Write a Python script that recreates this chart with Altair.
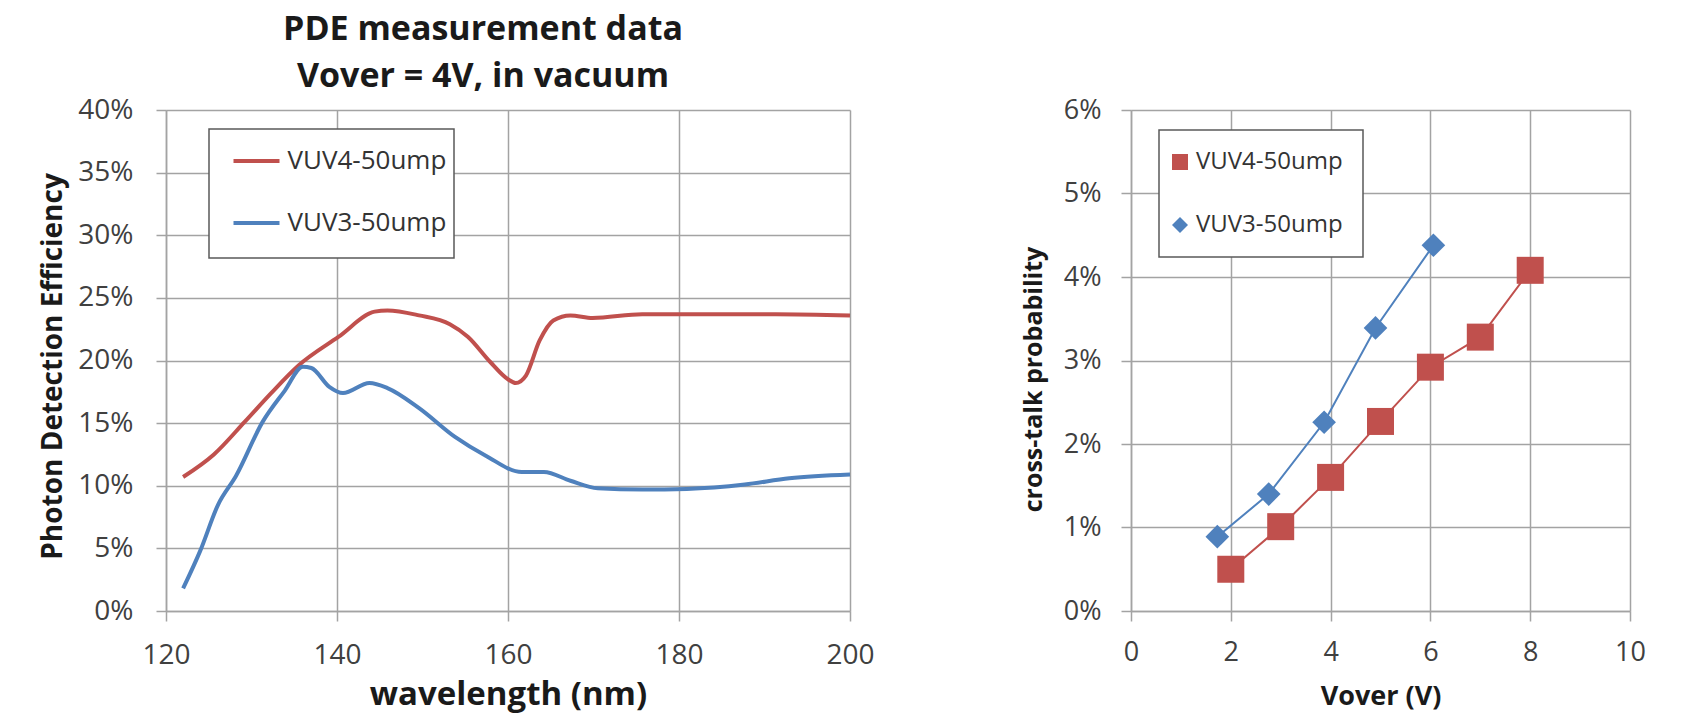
import altair as alt
import pandas as pd

# ---------------- data: PDE vs wavelength (Vover = 4V, in vacuum) ----------------
vuv4_wl = [122, 125.6, 129.2, 132.3, 135.5, 140.2, 144.4, 145.9, 149.6, 153.2, 155.3,
           157.9, 160.0, 160.9, 162.1, 163.7, 165.3, 167.3, 169.9, 175.7, 180.9, 191.3, 200]
vuv4_pde = [10.7, 12.5, 15.1, 17.4, 19.6, 21.9, 23.9, 24.0, 23.6, 22.9, 21.9,
            19.9, 18.5, 18.2, 18.8, 21.6, 23.2, 23.6, 23.4, 23.7, 23.7, 23.7, 23.6]
vuv3_wl = [122, 124.0, 126.1, 128.2, 131.3, 133.9, 136.0, 137.0, 139.1, 140.7, 143.8, 145.9,
           149.6, 153.8, 157.4, 161.6, 164.2, 167.3, 170.5, 175.7, 180.9, 187.7, 192.9, 200]
vuv3_pde = [1.8, 4.8, 8.5, 10.8, 15.1, 17.6, 19.5, 19.4, 17.9, 17.4, 18.2, 17.8,
            16.2, 13.9, 12.4, 11.1, 11.1, 10.4, 9.8, 9.7, 9.75, 10.1, 10.6, 10.9]

# ---------------- data: cross-talk probability vs Vover ----------------
vuv4_vover = [2, 3, 4, 5, 6, 7, 8]
vuv4_ct = [0.50, 1.01, 1.60, 2.27, 2.92, 3.28, 4.08]
vuv3_vover = [1.73, 2.76, 3.87, 4.90, 6.06]
vuv3_ct = [0.89, 1.40, 2.26, 3.39, 4.38]

series_names = ["VUV4-50ump", "VUV3-50ump"]
series_colors = ["#C0504D", "#4F81BD"]
series_shapes = ["square", "diamond"]
series_marker_sizes = [729, 560]

title_lines = ["PDE measurement data", "Vover = 4V, in vacuum"]
wl_ticks = [120, 140, 160, 180, 200]
pde_ticks = [0, 0.05, 0.10, 0.15, 0.20, 0.25, 0.30, 0.35, 0.40]
vover_ticks = [0, 2, 4, 6, 8, 10]
ct_ticks = [0, 0.01, 0.02, 0.03, 0.04, 0.05, 0.06]

pde_df = pd.DataFrame({
    "wavelength": vuv4_wl + vuv3_wl,
    "pde": [v / 100 for v in vuv4_pde + vuv3_pde],
    "series": [series_names[0]] * len(vuv4_wl) + [series_names[1]] * len(vuv3_wl),
})
ct_df = pd.DataFrame({
    "vover": vuv4_vover + vuv3_vover,
    "ct": [v / 100 for v in vuv4_ct + vuv3_ct],
    "device": [series_names[0]] * len(vuv4_vover) + [series_names[1]] * len(vuv3_vover),
})

FONT = "Open Sans"
GRID = "#a3a3a3"
LABEL = "#404040"
TITLE = "#1a1a1a"
NBSP = "\u00a0"

# ---------------- left: PDE ----------------
left = alt.Chart(pde_df).mark_line(strokeWidth=4, interpolate="monotone").encode(
    x=alt.X("wavelength:Q",
            scale=alt.Scale(domain=[120, 200], nice=False, zero=False),
            axis=alt.Axis(values=wl_ticks, title="wavelength (nm)", format="d",
                          labelFontSize=28, labelPadding=34, labelBaseline="middle",
                          labelFlush=False, titleFontSize=33, titleY=83,
                          titleBaseline="middle")),
    y=alt.Y("pde:Q",
            scale=alt.Scale(domain=[0, 0.4], nice=False),
            axis=alt.Axis(values=pde_ticks, format=".0%", title="Photon Detection Efficiency",
                          labelFontSize=28, labelPadding=23,
                          titleFontSize=28, titleX=-113, titleY=256,
                          titleBaseline="middle", titleAlign="center")),
    color=alt.Color("series:N",
                    scale=alt.Scale(domain=series_names, range=series_colors),
                    legend=alt.Legend(orient="none", legendX=43, legendY=19,
                                      title=NBSP, titleOrient="bottom", titleFontSize=10,
                                      titlePadding=5,
                                      symbolType="stroke", symbolSize=2116,
                                      symbolStrokeWidth=4, symbolOffset=15.5,
                                      labelOffset=6, rowPadding=24, padding=7,
                                      strokeColor="#595959", fillColor="white",
                                      labelFont=FONT, labelFontSize=26, labelColor="#333333",
                                      labelExpr="datum.label + '" + NBSP * 6 + "'")),
).properties(
    width=684, height=501,
    title=alt.Title(title_lines, font=FONT, fontSize=34, fontWeight="bold", color=TITLE,
                    lineHeight=47, anchor="middle", frame="group", dx=-25, offset=2),
)

# ---------------- right: cross-talk ----------------
ct_legend = alt.Legend(orient="none", legendX=28, legendY=20, title=None,
                       symbolSize=256, symbolOffset=-11, labelOffset=4,
                       rowPadding=39, padding=20,
                       strokeColor="#595959", fillColor="white",
                       labelFont=FONT, labelFontSize=24, labelColor="#333333")

base = alt.Chart(ct_df).encode(
    x=alt.X("vover:Q",
            scale=alt.Scale(domain=[0, 10], nice=False),
            axis=alt.Axis(values=vover_ticks, title="Vover (V)", format="d",
                          labelFontSize=27, labelPadding=31, labelBaseline="middle",
                          labelFlush=False, titleFontSize=27, titleY=85,
                          titleBaseline="middle")),
    y=alt.Y("ct:Q",
            scale=alt.Scale(domain=[0, 0.06], nice=False),
            axis=alt.Axis(values=ct_ticks, format=".0%", title="cross-talk probability",
                          labelFontSize=27, labelPadding=20,
                          titleFontSize=25, titleX=-98, titleY=269,
                          titleBaseline="middle", titleAlign="center")),
)
ct_lines = [
    base.transform_filter(alt.datum.device == name).mark_line(strokeWidth=2, color=col)
    for name, col in zip(series_names, series_colors)
]
ct_points = [
    base.transform_filter(alt.datum.device == name).mark_point(
        filled=True, opacity=1, size=msize
    ).encode(
        color=alt.Color("device:N", scale=alt.Scale(domain=series_names, range=series_colors),
                        legend=ct_legend),
        shape=alt.Shape("device:N", scale=alt.Scale(domain=series_names, range=series_shapes),
                        legend=ct_legend),
    )
    for name, msize in zip(series_names, series_marker_sizes)
]
right = alt.layer(*ct_lines, *ct_points).properties(width=499, height=501)

chart = alt.hconcat(left, right, spacing=281, bounds="flush").resolve_scale(
    color="independent", shape="independent"
).resolve_legend(
    color="independent", shape="independent"
).properties(
    padding={"left": 30, "top": 5, "right": 0, "bottom": 30},
    background="white",
).configure_view(stroke=None).configure_axis(
    gridColor=GRID, domainColor=GRID, tickColor=GRID,
    gridWidth=1.5, domainWidth=1.5, tickWidth=1.5, tickSize=10,
    labelFont=FONT, titleFont=FONT, labelColor=LABEL, titleColor=TITLE,
    titleFontWeight="bold",
).configure_legend(strokeWidth=1.5)

chart.save("out.html", embed_options={"renderer": "svg", "actions": False})
